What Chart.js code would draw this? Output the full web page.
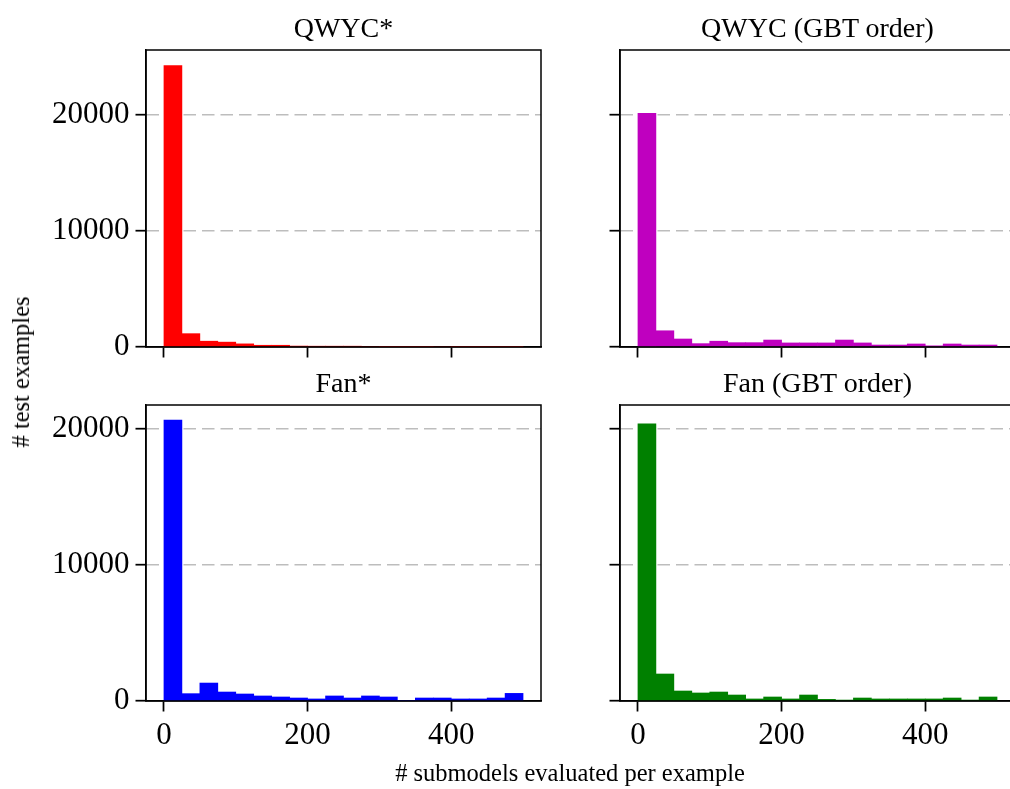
<!DOCTYPE html>
<html>
<head>
<meta charset="utf-8">
<script src="https://cdn.jsdelivr.net/npm/chart.js@4"></script>
<style>
  body { margin: 0; width: 1010px; height: 789px; overflow: hidden; background: #fff; position: relative;
         font-family: 'Liberation Serif', 'Times New Roman', serif; color: #000; }
  canvas { position: absolute; }
  .ttl { position: absolute; width: 395px; text-align: center; font-size: 28px; line-height: 28px; white-space: nowrap; }
  .lbl { position: absolute; font-size: 24.5px; line-height: 26px; white-space: nowrap; }
</style>
</head>
<body>
<canvas id="qwycStar" width="551" height="387" style="left:0;top:20px"></canvas>
<canvas id="qwycGbt" width="465" height="387" style="left:560px;top:20px"></canvas>
<canvas id="fanStar" width="551" height="386" style="left:0;top:375px"></canvas>
<canvas id="fanGbt" width="465" height="386" style="left:560px;top:375px"></canvas>

<div class="ttl" style="left:146px;top:14px">QWYC*</div>
<div class="ttl" style="left:620px;top:14px">QWYC (GBT order)</div>
<div class="ttl" style="left:146px;top:369px">Fan*</div>
<div class="ttl" style="left:620px;top:369px">Fan (GBT order)</div>

<div class="lbl" style="left:570px;top:760px;transform:translateX(-50%)"># submodels evaluated per example</div>
<div class="lbl" style="left:21px;top:372px;transform:translate(-50%,-50%) rotate(-90deg)"># test examples</div>

<script>
// histogram bins (submodels evaluated per example)
var binEdges = [0, 25, 50, 75, 100, 125, 150, 175, 200, 225, 250, 275, 300, 325, 350, 375, 400, 425, 450, 475, 500];

// counts per bin
var qwycStar = [24250, 1150, 500, 420, 270, 150, 150, 80, 70, 70, 70, 60, 30, 30, 30, 60, 20, 20, 20, 20];
var qwycGbt  = [20150, 1400, 690, 290, 500, 375, 375, 600, 350, 350, 350, 600, 350, 170, 170, 260, 100, 260, 170, 170];
var fanStar  = [20660, 540, 1320, 660, 515, 370, 295, 220, 150, 370, 220, 370, 295, 40, 220, 220, 150, 150, 220, 560];
var fanGbt   = [20370, 1985, 735, 590, 660, 440, 150, 295, 150, 440, 120, 70, 220, 150, 150, 150, 150, 220, 70, 295];

var xTicks = [0, 200, 400];
var yTicks = [0, 10000, 20000];
var xLimits = [-25, 525];
var topYMax = 25600;   // shared y limit, top row
var botYMax = 21760;   // shared y limit, bottom row

var serif = 'Liberation Serif';

// matplotlib-style box around the axes
var frame = {
  id: 'frame',
  afterDraw: function(chart) {
    var a = chart.chartArea, c = chart.ctx;
    c.save();
    c.strokeStyle = '#000';
    c.lineWidth = 1.5;
    c.strokeRect(a.left, a.top, a.right - a.left, a.bottom - a.top);
    c.restore();
  }
};

function makeHist(id, values, color, o) {
  var centers = binEdges.slice(0, -1).map(function(e, i) { return (e + binEdges[i + 1]) / 2; });
  var pts = centers.map(function(c, i) { return { x: c, y: values[i] }; });

  return new Chart(document.getElementById(id), {
    type: 'bar',
    data: {
      datasets: [{
        data: pts,
        backgroundColor: color,
        borderWidth: 0,
        barPercentage: 1,
        categoryPercentage: 1
      }]
    },
    options: {
      responsive: false,
      animation: false,
      devicePixelRatio: 1,
      layout: { padding: { top: 30, right: 10, left: 0, bottom: 0 } },
      plugins: { legend: { display: false }, tooltip: { enabled: false } },
      scales: {
        x: {
          type: 'linear', min: xLimits[0], max: xLimits[1], offset: false, z: 1,
          afterBuildTicks: function(s) { s.ticks = xTicks.map(function(v) { return { value: v }; }); },
          afterFit: function(s) { s.height = 60; },
          grid: { offset: false, drawOnChartArea: false, tickLength: 10.5, tickWidth: 1.75, tickColor: '#000' },
          border: { color: '#000', width: 1.5 },
          ticks: { display: o.xLabels, padding: 6, color: '#000', maxRotation: 0,
                   callback: function(v) { return String(v); },
                   font: { family: serif, size: 31 } }
        },
        y: {
          type: 'linear', min: 0, max: o.yMax, z: 1,
          afterBuildTicks: function(s) { s.ticks = yTicks.map(function(v) { return { value: v }; }); },
          afterFit: function(s) { s.width = o.yWidth; },
          grid: {
            color: function(ctx) { return ctx.tick && ctx.tick.value === 0 ? 'rgba(0,0,0,0)' : '#bdbdbd'; },
            lineWidth: 1.4, tickLength: 10.5, tickWidth: 1.75, tickColor: '#000'
          },
          border: { color: '#000', width: 1.5, dash: [12.5, 6] },
          ticks: { display: o.yLabels, padding: 6, color: '#000',
                   callback: function(v) { return String(v); },
                   font: { family: serif, size: 31 } }
        }
      }
    },
    plugins: [frame]
  });
}

makeHist('qwycStar', qwycStar, '#ff0000', { yMax: topYMax, yWidth: 146, xLabels: false, yLabels: true });
makeHist('qwycGbt', qwycGbt, '#bf00bf', { yMax: topYMax, yWidth: 60, xLabels: false, yLabels: false });
makeHist('fanStar', fanStar, '#0000ff', { yMax: botYMax, yWidth: 146, xLabels: true, yLabels: true });
makeHist('fanGbt', fanGbt, '#008000', { yMax: botYMax, yWidth: 60, xLabels: true, yLabels: false });
</script>
</body>
</html>
